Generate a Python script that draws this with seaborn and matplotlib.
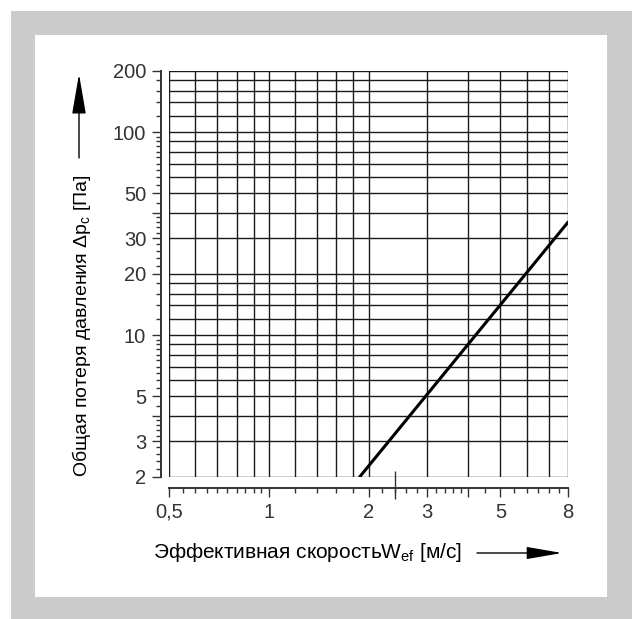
import matplotlib
matplotlib.use("Agg")
import matplotlib.pyplot as plt
import seaborn as sns
import pandas as pd
from matplotlib.patches import Rectangle, FancyArrowPatch
from matplotlib.ticker import FixedLocator, FixedFormatter, NullFormatter

# --- data ---
velocity = [1.88, 8.0]          # effective velocity W_ef [m/s]
pressure_loss = [2.0, 36.0]     # total pressure loss dp_c [Pa]

x_major = [0.5, 1, 2, 3, 4, 5, 8]
x_major_labels = ["0,5", "1", "2", "3", "", "5", "8"]
x_minor = [0.55, 0.6, 0.65, 0.7, 0.75, 0.8, 0.85, 0.9, 0.95,
           1.2, 1.4, 1.6, 1.8, 2.2, 2.4, 2.6, 2.8,
           3.2, 3.4, 3.6, 3.8, 4.5, 5.5, 6, 6.5, 7, 7.5]
x_grid = [0.5, 0.6, 0.7, 0.8, 0.9, 1, 1.2, 1.4, 1.6, 1.8, 2, 3, 4, 5, 6, 7, 8]

y_major = [2, 3, 4, 5, 10, 20, 30, 40, 50, 100, 200]
y_major_labels = ["2", "3", "", "5", "10", "20", "30", "", "50", "100", "200"]
y_minor = [2.2, 2.4, 2.6, 2.8, 3.2, 3.4, 3.6, 3.8, 4.5, 5.5, 6, 6.5, 7, 7.5,
           8, 8.5, 9, 9.5, 12, 14, 16, 18, 22, 24, 26, 28, 32, 34, 36, 38,
           45, 55, 60, 65, 70, 75, 80, 85, 90, 95, 120, 140, 160, 180]
y_grid = [2, 3, 4, 5, 6, 7, 8, 9, 10, 12, 14, 16, 18, 20, 30, 40, 50,
          60, 70, 80, 90, 100, 120, 140, 160, 180, 200]

odd_tick = [2.4]   # single long tick crossing the x axis line

df = pd.DataFrame({"w": velocity, "dp": pressure_loss})

sns.set_style("white")
plt.rcParams["font.family"] = ["Liberation Sans", "DejaVu Sans"]
plt.rcParams["mathtext.fontset"] = "custom"
plt.rcParams["mathtext.rm"] = "Liberation Sans"

W, H = 632, 619
fig = plt.figure(figsize=(W / 100, H / 100), dpi=100)
fig.patch.set_facecolor("white")

# gray frame with white panel
fig.patches.append(Rectangle((11 / W, 0), 1 - 11 / W, 1 - 11 / H,
                             transform=fig.transFigure, facecolor="#cccccc",
                             edgecolor="none", zorder=-10))
fig.patches.append(Rectangle((35 / W, 22 / H), 572 / W, 562 / H,
                             transform=fig.transFigure, facecolor="white",
                             edgecolor="none", zorder=-9))

ax = fig.add_axes([169 / W, (H - 477) / H, 399 / W, 406 / H])
ax.set_facecolor("none")
ax.set_xscale("log")
ax.set_yscale("log")
ax.set_xlim(0.5, 8)
ax.set_ylim(2, 200)

grid_color = "#1a1a1a"
for gx in x_grid:
    ax.axvline(gx, color=grid_color, lw=1.0, zorder=1)
for gy in y_grid:
    ax.axhline(gy, color=grid_color, lw=1.0, zorder=1)

sns.lineplot(data=df, x="w", y="dp", color="black", lw=2.2, ax=ax, zorder=3)

ax.xaxis.set_major_locator(FixedLocator(x_major))
ax.xaxis.set_major_formatter(FixedFormatter(x_major_labels))
ax.xaxis.set_minor_locator(FixedLocator(x_minor))
ax.xaxis.set_minor_formatter(NullFormatter())
ax.yaxis.set_major_locator(FixedLocator(y_major))
ax.yaxis.set_major_formatter(FixedFormatter(y_major_labels))
ax.yaxis.set_minor_locator(FixedLocator(y_minor))
ax.yaxis.set_minor_formatter(NullFormatter())

for side in ["top", "right"]:
    ax.spines[side].set_visible(False)
ax.spines["left"].set_position(("outward", 6))
ax.spines["bottom"].set_position(("outward", 8))
for side in ["left", "bottom"]:
    ax.spines[side].set_color("#333333")
    ax.spines[side].set_linewidth(1.4)

ax.tick_params(axis="both", which="major", direction="out", length=6.5,
               width=1.0, color="#333333", labelsize=14.5, labelcolor="#333333",
               bottom=True, left=True)
ax.tick_params(axis="both", which="minor", direction="out", length=3.5,
               width=1.0, color="#333333", bottom=True, left=True)
ax.tick_params(axis="x", which="major", pad=4)
ax.tick_params(axis="y", which="major", pad=4)

ax.set_xlabel("")
ax.set_ylabel("")

# the long tick at 2.4 that crosses the x axis line
sec = ax.secondary_xaxis(-8 / 406)
sec.set_xticks(odd_tick)
sec.set_xticklabels([""])
sec.minorticks_off()
sec.tick_params(axis="x", which="major", direction="inout", length=20,
                width=1.0, color="#333333")
sec.spines["bottom"].set_visible(False)

# axis titles with arrows
fig.text(153 / W, (H - 553) / H,
         "Эффективная скоростьW$_{\\mathregular{ef}}$ [м/с]",
         fontsize=15, ha="left", va="center", color="black")
fig.text(82 / W, (H - 326) / H,
         "Общая потеря давления Δp$_{\\mathregular{c}}$ [Па]",
         fontsize=14, ha="center", va="center", rotation=90, color="black")

fig.patches.append(FancyArrowPatch((477 / W, (H - 553) / H), (562 / W, (H - 553) / H),
                                   transform=fig.transFigure,
                                   arrowstyle="-|>,head_length=2.2,head_width=0.38",
                                   mutation_scale=10, lw=1.0, color="black",
                                   shrinkA=0, shrinkB=0))
fig.patches.append(FancyArrowPatch((79 / W, (H - 158) / H), (79 / W, (H - 74) / H),
                                   transform=fig.transFigure,
                                   arrowstyle="-|>,head_length=2.5,head_width=0.43",
                                   mutation_scale=10, lw=1.0, color="black",
                                   shrinkA=0, shrinkB=0))

fig.savefig("out.png", dpi=100)
